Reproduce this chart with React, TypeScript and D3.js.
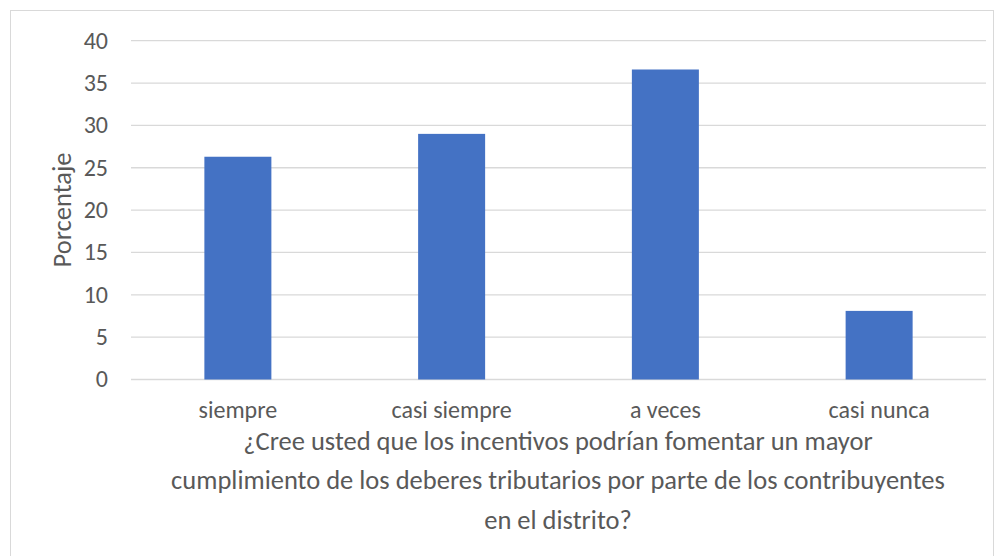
import React from "react"
import * as d3 from "d3"

const categories = ["siempre", "casi siempre", "a veces", "casi nunca"]
const percentages = [26.3, 29.0, 36.6, 8.1]
const yTicks = [0, 5, 10, 15, 20, 25, 30, 35, 40]
const titleLines = [
  "¿Cree usted que los incentivos podrían fomentar un mayor",
  "cumplimiento de los deberes tributarios por parte de los contribuyentes",
  "en el distrito?",
]
const yLabel = "Porcentaje"

const width = 1002
const height = 556
const margin = { top: 40.7, right: 16, bottom: 176.5, left: 131 }
const font = "Calibri, Carlito, 'Noto Sans', sans-serif"
const textColor = "#595959"

const App = () => {
  const x = d3
    .scaleBand()
    .domain(categories)
    .range([margin.left, width - margin.right])
    .padding(0)

  const y = d3
    .scaleLinear()
    .domain([0, 40])
    .range([height - margin.bottom, margin.top])

  // gap width ~219% like the office default
  const barW = x.bandwidth() / 3.19

  return (
    <svg
      width={width}
      height={height}
      style={{ position: "absolute", left: 0, top: 0, background: "#fff" }}
      fontFamily={font}
    >
      <rect x={10.5} y={10.5} width={983} height={560} fill="#fff" stroke="#d9d9d9" />

      {/* grid */}
      <g>
        {yTicks.map((t) => (
          <line
            key={t}
            x1={margin.left}
            x2={width - margin.right}
            y1={y(t)}
            y2={y(t)}
            stroke="#d9d9d9"
            strokeWidth={1.3}
          />
        ))}
      </g>

      {/* y tick labels */}
      <g fill={textColor} fontSize={24} textAnchor="end">
        {yTicks.map((t) => (
          <text key={t} x={108} y={y(t)} dy="0.33em">
            {t}
          </text>
        ))}
      </g>

      {/* bars */}
      <g fill="#4472c4">
        {categories.map((c, i) => (
          <rect
            key={c}
            x={x(c)! + (x.bandwidth() - barW) / 2}
            y={y(percentages[i])}
            width={barW}
            height={y(0) - y(percentages[i])}
          />
        ))}
      </g>

      {/* x labels */}
      <g fill={textColor} fontSize={24} textAnchor="middle">
        {categories.map((c) => (
          <text key={c} x={x(c)! + x.bandwidth() / 2} y={410} dy="0.33em">
            {c}
          </text>
        ))}
      </g>

      {/* axis title */}
      <g fill={textColor} fontSize={26.5} textAnchor="middle">
        {titleLines.map((l, i) => (
          <text key={i} x={558} y={441 + i * 39.5} dy="0.33em">
            {l}
          </text>
        ))}
      </g>

      <text
        transform="translate(62,210) rotate(-90)"
        fill={textColor}
        fontSize={26.5}
        textAnchor="middle"
        dy="0.33em"
      >
        {yLabel}
      </text>
    </svg>
  )
}

export default App
